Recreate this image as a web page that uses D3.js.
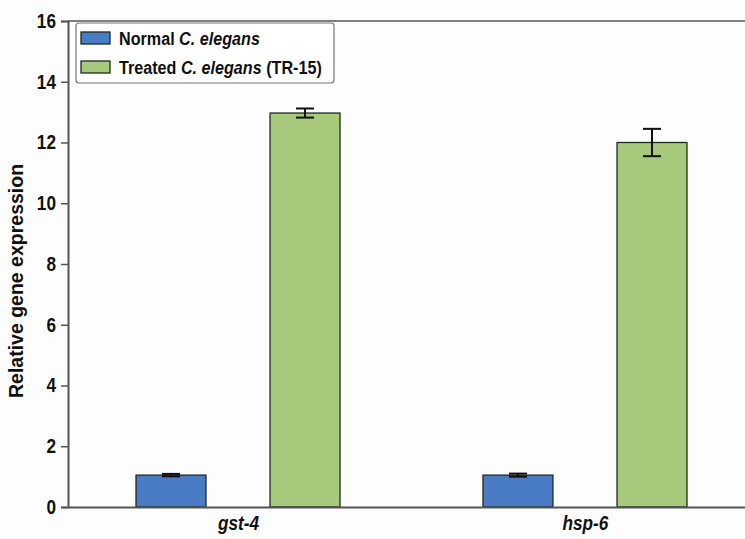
<!DOCTYPE html>
<html>
<head>
<meta charset="utf-8">
<script src="https://cdn.jsdelivr.net/npm/d3@7"></script>
<style>
  html, body { margin: 0; padding: 0; background: #fdfdfd; }
  svg { display: block; }
  .lbl { font-family: "Liberation Sans", Arial, sans-serif; font-weight: bold; }
</style>
</head>
<body>
<svg id="chart" width="745" height="539"></svg>
<script>
// Relative expression of stress-response genes
const genes = ["gst-4", "hsp-6"];
const groups = ["Normal", "Treated"];
const normalMean = [1.05, 1.05];
const normalErr = [0.04, 0.05];
const treatedMean = [12.97, 12.0];
const treatedErr = [0.15, 0.45];
const yTicks = [0, 2, 4, 6, 8, 10, 12, 14, 16];
const colors = { Normal: "#4a7cc6", Treated: "#a7c97b" };

const svg = d3.select("#chart");
const plotLeft = 68, plotTop = 21, plotBottom = 507, plotRight = 755;
const condense = 0.86; // horizontal squeeze giving a narrow bold face

const y = d3.scaleLinear().domain([0, 16]).range([plotBottom, plotTop]);
const x = d3.scalePoint().domain(genes).range([plotLeft, plotRight]).padding(0.49);
const xInner = d3.scaleBand().domain(groups).range([-102, 102]).paddingInner(0.478);

const rows = [];
genes.forEach((g, i) => {
  rows.push({ gene: g, group: "Normal", mean: normalMean[i], err: normalErr[i] });
  rows.push({ gene: g, group: "Treated", mean: treatedMean[i], err: treatedErr[i] });
});

// bars
svg.append("g").selectAll("rect").data(rows).join("rect")
  .attr("x", d => x(d.gene) + xInner(d.group))
  .attr("width", xInner.bandwidth())
  .attr("y", d => y(d.mean))
  .attr("height", d => y(0) - y(d.mean))
  .attr("fill", d => colors[d.group])
  .attr("stroke", "#1e2a1e")
  .attr("stroke-width", 1.3);

// error bars
const capW = 9;
const eb = svg.append("g").attr("stroke", "#111").attr("stroke-width", 2);
rows.forEach(d => {
  const cx = x(d.gene) + xInner(d.group) + xInner.bandwidth() / 2;
  eb.append("line").attr("x1", cx).attr("x2", cx).attr("y1", y(d.mean + d.err)).attr("y2", y(d.mean - d.err));
  eb.append("line").attr("x1", cx - capW).attr("x2", cx + capW).attr("y1", y(d.mean + d.err)).attr("y2", y(d.mean + d.err));
  eb.append("line").attr("x1", cx - capW).attr("x2", cx + capW).attr("y1", y(d.mean - d.err)).attr("y2", y(d.mean - d.err));
});

// top frame
svg.append("line").attr("x1", plotLeft).attr("x2", plotRight).attr("y1", y(16)).attr("y2", y(16))
  .attr("stroke", "#555").attr("stroke-width", 1.6);

// y axis
const yAxis = svg.append("g").attr("transform", `translate(${plotLeft},0)`)
  .call(d3.axisLeft(y).tickValues(yTicks).tickSize(7).tickPadding(7).tickFormat(d3.format("d")));
yAxis.select(".domain").attr("stroke", "#555").attr("stroke-width", 2);
yAxis.selectAll(".tick line").attr("stroke", "#555").attr("stroke-width", 1.5);
yAxis.selectAll(".tick text").attr("class", "lbl").attr("font-size", 20).attr("fill", "#111")
  .attr("transform", `scale(${condense},1)`);

// x axis
const xAxis = svg.append("g").attr("transform", `translate(0,${plotBottom})`)
  .call(d3.axisBottom(x).tickSize(0).tickPadding(9));
xAxis.select(".domain").attr("stroke", "#555").attr("stroke-width", 2);
xAxis.selectAll(".tick text").attr("class", "lbl").attr("font-size", 20)
  .attr("font-style", "italic").attr("fill", "#111")
  .attr("transform", `scale(${condense},1)`);

// y title
svg.append("text").attr("class", "lbl").attr("font-size", 19.5).attr("fill", "#111")
  .attr("text-anchor", "middle")
  .attr("transform", `translate(23,${(y(0) + y(16)) / 2 + 17}) rotate(-90)`)
  .text("Relative gene expression");

// legend
const lg = svg.append("g");
lg.append("rect").attr("x", 76).attr("y", 23).attr("width", 258).attr("height", 60)
  .attr("rx", 3).attr("fill", "#fff").attr("stroke", "#777").attr("stroke-width", 1.2);
const legendItems = [
  { key: "Normal", parts: [["Normal ", "normal"], ["C. elegans", "italic"]] },
  { key: "Treated", parts: [["Treated ", "normal"], ["C. elegans", "italic"], [" (TR-15)", "normal"]] }
];
legendItems.forEach((it, i) => {
  const yy = 32 + i * 29;
  lg.append("rect").attr("x", 81).attr("y", yy).attr("width", 29).attr("height", 12)
    .attr("fill", colors[it.key]).attr("stroke", "#1e2a1e").attr("stroke-width", 1.3);
  const t = lg.append("text").attr("class", "lbl").attr("font-size", 19).attr("fill", "#111")
    .attr("transform", `translate(119,${yy + 13}) scale(0.85,1)`);
  it.parts.forEach(p => t.append("tspan").attr("font-style", p[1]).text(p[0]));
});
</script>
</body>
</html>
